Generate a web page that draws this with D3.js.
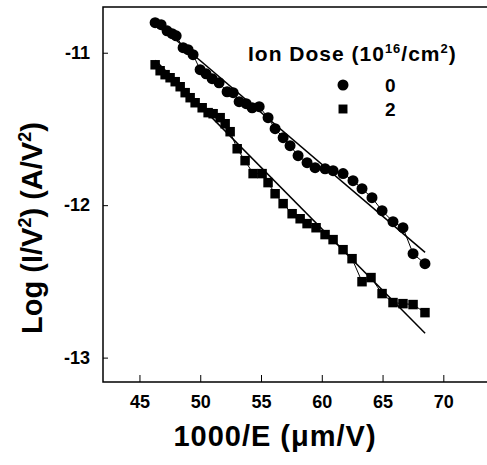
<!DOCTYPE html>
<html>
<head>
<meta charset="utf-8">
<script src="https://cdn.jsdelivr.net/npm/d3@7"></script>
<style>
  body { margin: 0; background: #fff; }
  text { font-family: "Liberation Sans", Arial, sans-serif; fill: #000; }
</style>
</head>
<body>
<div id="chart"></div>
<script>
// data
const dose0X = [46.29, 46.78, 47.27, 47.69, 48.02, 48.59, 49.00, 49.41, 49.99, 50.48, 50.98, 51.55,
  52.21, 52.71, 53.20, 53.78, 54.27, 54.85, 55.58, 56.16, 56.82, 57.39, 58.05, 58.79, 59.45,
  60.27, 60.93, 61.75, 62.57, 63.31, 64.13, 64.96, 65.86, 66.68, 67.51, 68.49];
const dose0Y = [-10.803, -10.816, -10.856, -10.875, -10.889, -10.967, -10.980, -11.013, -11.111, -11.138, -11.170, -11.197,
  -11.256, -11.262, -11.321, -11.334, -11.361, -11.354, -11.426, -11.498, -11.557, -11.610, -11.675, -11.721, -11.754,
  -11.761, -11.774, -11.793, -11.839, -11.892, -11.951, -12.036, -12.108, -12.148, -12.318, -12.384];

const dose2X = [46.29, 46.70, 47.11, 47.52, 47.94, 48.35, 48.76, 49.17, 49.58, 50.16, 50.65, 51.06,
  51.64, 52.05, 52.46, 53.04, 53.69, 54.35, 55.09, 55.58, 56.16, 56.82, 57.56, 58.22, 58.79,
  59.53, 60.27, 60.93, 61.75, 62.49, 63.31, 64.05, 64.96, 65.86, 66.68, 67.51, 68.49];
const dose2Y = [-11.079, -11.118, -11.144, -11.164, -11.190, -11.223, -11.262, -11.295, -11.328, -11.361, -11.393, -11.400,
  -11.426, -11.466, -11.518, -11.630, -11.708, -11.793, -11.793, -11.852, -11.925, -11.990, -12.056, -12.089, -12.121,
  -12.148, -12.193, -12.226, -12.292, -12.351, -12.502, -12.475, -12.580, -12.639, -12.646, -12.652, -12.705];

// straight fit lines (end points)
const fit0X = [46.3, 68.5];
const fit0Y = [-10.80, -12.31];
const fit2X = [46.3, 68.5];
const fit2Y = [-11.05, -12.84];

const xTicks = [45, 50, 55, 60, 65, 70];
const yTicks = [-11, -12, -13];
const legendLabels = ["0", "2"];

var svgWidth = 487;
var svgHeight = 465;
var margin = { top: 7, right: -3, bottom: 83, left: 103 };
var chartWidth = svgWidth - margin.left - margin.right;
var chartHeight = svgHeight - margin.top - margin.bottom;

var svg = d3.select('#chart')
  .append('svg')
  .attr('width', svgWidth)
  .attr('height', svgHeight);

var chartGroup = svg.append('g')
  .attr('transform', `translate(${margin.left}, ${margin.top})`);

var xScale = d3.scaleLinear().domain([42, 73.84]).range([0, chartWidth]);
var yScale = d3.scaleLinear().domain([-10.70, -13.16]).range([0, chartHeight]);

//frame: left, top, bottom
chartGroup.append("path")
  .attr("d", `M${chartWidth},0H0V${chartHeight}H${chartWidth}`)
  .attr("fill", "none")
  .attr("stroke", "#000")
  .attr("stroke-width", 1.5);

//axes with inside ticks
var xAxis = d3.axisBottom(xScale).tickValues(xTicks).tickSize(-7).tickPadding(13);
var yAxis = d3.axisLeft(yScale).tickValues(yTicks).tickSize(-5).tickPadding(13)
  .tickFormat(d => String(d));

var gx = chartGroup.append("g").attr("transform", `translate(0, ${chartHeight})`).call(xAxis);
var gy = chartGroup.append("g").call(yAxis);
[gx, gy].forEach(g => {
  g.select(".domain").remove();
  g.selectAll(".tick line").attr("stroke", "#000").attr("stroke-width", 1);
  g.selectAll(".tick text")
    .style("font-size", "18px")
    .style("font-weight", "bold")
    .style("font-family", '"Liberation Sans", Arial, sans-serif');
});
gx.selectAll(".tick text").attr("dy", "0.71em");

function drawSeries(xs, ys, fx, fy, shape) {
  var pts = xs.map((x, i) => [x, ys[i]]);
  var line = d3.line().x(d => xScale(d[0])).y(d => yScale(d[1]));
  chartGroup.append("path")
    .attr("d", line(pts))
    .attr("fill", "none")
    .attr("stroke", "#000")
    .attr("stroke-width", 1);
  chartGroup.append("path")
    .attr("d", line(fx.map((x, i) => [x, fy[i]])))
    .attr("fill", "none")
    .attr("stroke", "#000")
    .attr("stroke-width", 1.5);
  var sym = d3.symbol().type(shape).size(shape === d3.symbolCircle ? 95 : 90);
  chartGroup.selectAll(null)
    .data(pts)
    .enter()
    .append("path")
    .attr("d", sym)
    .attr("transform", d => `translate(${xScale(d[0])}, ${yScale(d[1])})`)
    .attr("fill", "#000");
}

drawSeries(dose0X, dose0Y, fit0X, fit0Y, d3.symbolCircle);
drawSeries(dose2X, dose2Y, fit2X, fit2Y, d3.symbolSquare);

//legend
var legend = svg.append("g");
var title = legend.append("text")
  .attr("x", 248)
  .attr("y", 61)
  .style("font-size", "21px")
  .style("font-weight", "bold")
  .style("letter-spacing", "1px");
title.append("tspan").text("Ion Dose (10");
title.append("tspan").text("16").attr("dy", -8).style("font-size", "13px");
title.append("tspan").text("/cm").attr("dy", 8);
title.append("tspan").text("2").attr("dy", -8).style("font-size", "13px");
title.append("tspan").text(")").attr("dy", 8);

var shapes = [d3.symbolCircle, d3.symbolSquare];
legendLabels.forEach((lab, i) => {
  legend.append("path")
    .attr("d", d3.symbol().type(shapes[i]).size(i === 0 ? 95 : 80))
    .attr("transform", `translate(343, ${85 + i * 24})`)
    .attr("fill", "#000");
  legend.append("text")
    .attr("x", 385)
    .attr("y", 92 + i * 24)
    .style("font-size", "19px")
    .style("font-weight", "bold")
    .text(lab);
});

//axis titles
svg.append("text")
  .attr("x", 275)
  .attr("y", 446)
  .attr("text-anchor", "middle")
  .style("font-size", "29px")
  .style("font-weight", "bold")
  .style("letter-spacing", "1px")
  .text("1000/E (\u03bcm/V)");

var yt = svg.append("text")
  .attr("transform", "translate(42, 228) rotate(-90)")
  .attr("text-anchor", "middle")
  .style("font-size", "29px")
  .style("font-weight", "bold");
yt.append("tspan").text("Log (I/V");
yt.append("tspan").text("2").attr("dy", -11).style("font-size", "18px");
yt.append("tspan").text(") (A/V").attr("dy", 11);
yt.append("tspan").text("2").attr("dy", -11).style("font-size", "18px");
yt.append("tspan").text(")").attr("dy", 11);
</script>
</body>
</html>
